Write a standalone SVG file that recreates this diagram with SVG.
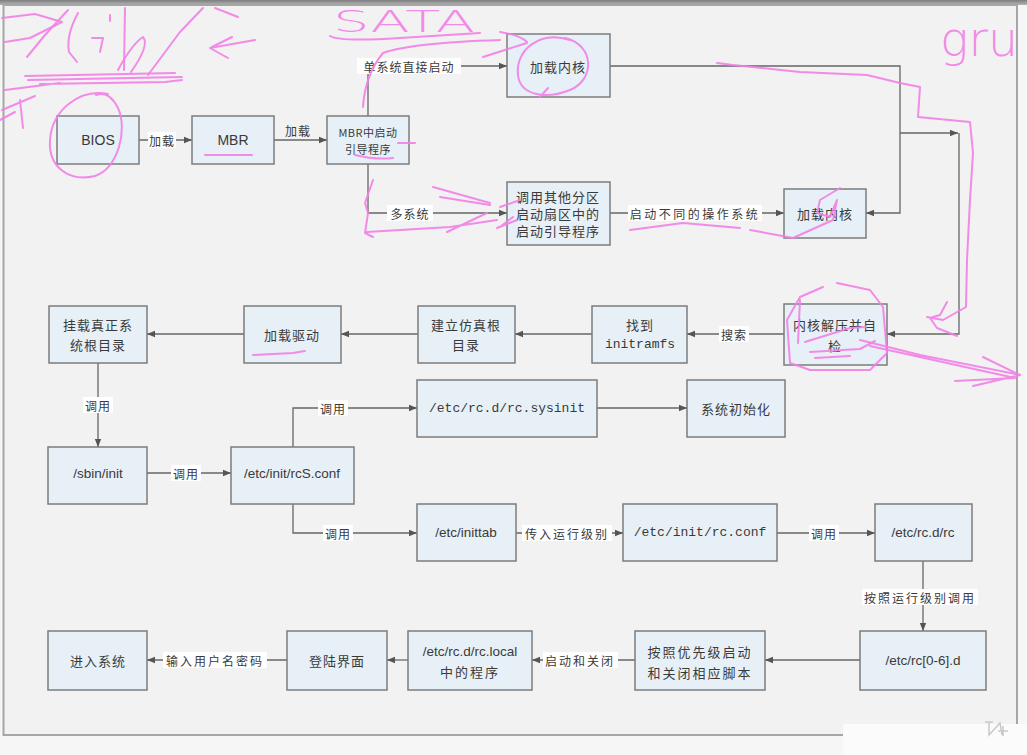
<svg xmlns="http://www.w3.org/2000/svg" width="1027" height="755" viewBox="0 0 1027 755">
  <defs>
    <marker id="arr" viewBox="0 0 10 10" refX="10" refY="5" markerWidth="9" markerHeight="8" markerUnits="userSpaceOnUse" orient="auto">
      <path d="M0,1 L10,5 L0,9 z" fill="#555"/>
    </marker>
    <linearGradient id="topbar" x1="0" y1="0" x2="0" y2="1">
      <stop offset="0" stop-color="#7d7d7d"/>
      <stop offset="1" stop-color="#b5b5b5"/>
    </linearGradient>
  </defs>
  <style>
    .box { fill: #e7f0f6; stroke: #7c7c7c; stroke-width: 1.5; }
    .t { font-family: "Noto Sans CJK SC", "Noto Sans", sans-serif; font-size: 13px; fill: #3a3a3a; text-anchor: middle; dominant-baseline: central; letter-spacing: 1px; }
    .en { font-family: "Liberation Sans", "Noto Sans CJK SC", sans-serif; font-size: 14px; letter-spacing: 0; }
    .mono { font-family: "Liberation Mono", "Noto Sans CJK SC", monospace; font-size: 13px; letter-spacing: 0; }
    .sm { font-size: 11px; letter-spacing: 0.5px; }
    .lbl { font-family: "Noto Sans CJK SC", sans-serif; font-size: 12px; fill: #3a3a3a; text-anchor: middle; dominant-baseline: central; letter-spacing: 1px; }
    .lblbg { fill: #ffffff; }
    .conn path { fill: none; stroke: #666; stroke-width: 1.3; }
    .ink { fill: none; stroke: #f27fe6; stroke-width: 2; stroke-linecap: round; stroke-linejoin: round; opacity: 0.9; }
    .inktext { fill: #f27fe6; font-family: "DejaVu Sans", sans-serif; font-weight: 200; opacity: 0.9; }
  </style>

  <!-- window background and frame -->
  <rect x="0" y="0" width="1027" height="755" fill="#f6f6f6"/>
  <rect x="0" y="0" width="1027" height="5" fill="url(#topbar)"/>
  <rect x="3.5" y="5" width="1013.5" height="730" fill="#f2f2f2" stroke="#a6a6a6" stroke-width="2"/>
  <rect x="843" y="724" width="184" height="31" fill="#fbfbfb"/>
  <path d="M985,722 H993 M989,722 V735 L1000,723 L1002,735 M998,731 H1008 M1003,726 V736" fill="none" stroke="#c9c9c9" stroke-width="1.5"/>

  <!-- connectors -->
  <g id="connectors" class="conn">
    <path d="M139,140 H192" marker-end="url(#arr)"/>
    <path d="M274,140 H327" marker-end="url(#arr)"/>
    <path d="M368,116 V66 H507" marker-end="url(#arr)"/>
    <path d="M368,164 V213 H507" marker-end="url(#arr)"/>
    <path d="M610,213 H784" marker-end="url(#arr)"/>
    <path d="M610,66 H900 V213 H866" marker-end="url(#arr)"/>
    <path d="M900,133 H958" marker-end="url(#arr)"/>
    <path d="M959,133 V334 H887" marker-end="url(#arr)"/>
    <path d="M784,334 H687" marker-end="url(#arr)"/>
    <path d="M592,334 H515" marker-end="url(#arr)"/>
    <path d="M418,334 H341" marker-end="url(#arr)"/>
    <path d="M244,334 H147" marker-end="url(#arr)"/>
    <path d="M98,363 V447" marker-end="url(#arr)"/>
    <path d="M147,473 H231" marker-end="url(#arr)"/>
    <path d="M293,447 V408 H417" marker-end="url(#arr)"/>
    <path d="M597,408 H687" marker-end="url(#arr)"/>
    <path d="M293,504 V533 H417" marker-end="url(#arr)"/>
    <path d="M516,533 H623" marker-end="url(#arr)"/>
    <path d="M777,533 H875" marker-end="url(#arr)"/>
    <path d="M923,561 V631" marker-end="url(#arr)"/>
    <path d="M860,660 H765" marker-end="url(#arr)"/>
    <path d="M635,660 H532" marker-end="url(#arr)"/>
    <path d="M408,660 H387" marker-end="url(#arr)"/>
    <path d="M287,660 H147" marker-end="url(#arr)"/>

    <!-- connector labels -->
    <rect class="lblbg" x="148" y="132" width="28" height="16"/>
    <text class="lbl" x="162" y="140">加载</text>
    <text class="lbl" x="298" y="130">加载</text>
    <rect class="lblbg" x="357" y="58" width="104" height="16"/>
    <text class="lbl" x="409" y="66">单系统直接启动</text>
    <rect class="lblbg" x="387" y="205" width="46" height="16"/>
    <text class="lbl" x="410" y="213">多系统</text>
    <rect class="lblbg" x="628" y="205" width="134" height="16"/>
    <text class="lbl" x="695" y="213" style="letter-spacing:2.5px">启动不同的操作系统</text>
    <rect class="lblbg" x="719" y="326" width="30" height="16"/>
    <text class="lbl" x="734" y="334">搜索</text>
    <rect class="lblbg" x="83" y="397" width="30" height="16"/>
    <text class="lbl" x="98" y="405">调用</text>
    <rect class="lblbg" x="171" y="465" width="30" height="16"/>
    <text class="lbl" x="186" y="473">调用</text>
    <rect class="lblbg" x="318" y="400" width="30" height="16"/>
    <text class="lbl" x="333" y="408">调用</text>
    <rect class="lblbg" x="323" y="525" width="30" height="16"/>
    <text class="lbl" x="338" y="533">调用</text>
    <rect class="lblbg" x="522" y="525" width="90" height="16"/>
    <text class="lbl" x="567" y="533" style="letter-spacing:2px">传入运行级别</text>
    <rect class="lblbg" x="809" y="525" width="30" height="16"/>
    <text class="lbl" x="824" y="533">调用</text>
    <rect class="lblbg" x="862" y="589" width="116" height="16"/>
    <text class="lbl" x="920" y="597" style="letter-spacing:2px">按照运行级别调用</text>
    <rect class="lblbg" x="543" y="652" width="75" height="16"/>
    <text class="lbl" x="580" y="660" style="letter-spacing:2px">启动和关闭</text>
    <rect class="lblbg" x="163" y="652" width="104" height="16"/>
    <text class="lbl" x="215" y="660" style="letter-spacing:2px">输入用户名密码</text>
  </g>

  <!-- nodes -->
  <g id="bios"><rect class="box" x="57" y="116" width="82" height="48"/><text class="t en" x="98" y="140">BIOS</text></g>
  <g id="mbr"><rect class="box" x="192" y="116" width="82" height="48"/><text class="t en" x="233" y="140">MBR</text></g>
  <g id="mbr-loader"><rect class="box" x="327" y="116" width="82" height="48"/>
    <text class="t sm" x="368" y="132">MBR中启动</text><text class="t sm" x="368" y="149">引导程序</text></g>
  <g id="kernel-a"><rect class="box" x="507" y="34" width="103" height="63"/><text class="t" x="558" y="66">加载内核</text></g>
  <g id="chainload"><rect class="box" x="507" y="182" width="103" height="63"/>
    <text class="t" x="558" y="196">调用其他分区</text><text class="t" x="558" y="213">启动扇区中的</text><text class="t" x="558" y="230">启动引导程序</text></g>
  <g id="kernel-b"><rect class="box" x="784" y="189" width="82" height="49"/><text class="t" x="825" y="213">加载内核</text></g>
  <g id="decompress"><rect class="box" x="784" y="304" width="103" height="61"/>
    <text class="t" x="835" y="324">内核解压并自</text><text class="t" x="835" y="345">检</text></g>
  <g id="initramfs"><rect class="box" x="592" y="306" width="95" height="57"/>
    <text class="t" x="640" y="324">找到</text><text class="t mono" x="640" y="344">initramfs</text></g>
  <g id="fake-root"><rect class="box" x="418" y="306" width="97" height="57"/>
    <text class="t" x="466" y="324">建立仿真根</text><text class="t" x="466" y="344">目录</text></g>
  <g id="drivers"><rect class="box" x="244" y="306" width="97" height="57"/><text class="t" x="292" y="334">加载驱动</text></g>
  <g id="mount-root"><rect class="box" x="49" y="306" width="98" height="57"/>
    <text class="t" x="98" y="324">挂载真正系</text><text class="t" x="98" y="344">统根目录</text></g>
  <g id="sbin-init"><rect class="box" x="48" y="447" width="99" height="57"/><text class="t en" x="98" y="473" style="font-size:13.5px">/sbin/init</text></g>
  <g id="rcs-conf"><rect class="box" x="231" y="447" width="123" height="57"/><text class="t en" x="292" y="473" style="font-size:13.5px">/etc/init/rcS.conf</text></g>
  <g id="rc-sysinit"><rect class="box" x="417" y="380" width="180" height="57"/><text class="t mono" x="507" y="408">/etc/rc.d/rc.sysinit</text></g>
  <g id="sys-init"><rect class="box" x="687" y="380" width="98" height="57"/><text class="t" x="736" y="408">系统初始化</text></g>
  <g id="inittab"><rect class="box" x="417" y="504" width="99" height="57"/><text class="t en" x="466" y="532" style="font-size:13.5px">/etc/inittab</text></g>
  <g id="rc-conf"><rect class="box" x="623" y="504" width="154" height="57"/><text class="t mono" x="700" y="532">/etc/init/rc.conf</text></g>
  <g id="rc-d-rc"><rect class="box" x="875" y="504" width="97" height="57"/><text class="t en" x="923" y="532" style="font-size:13.5px">/etc/rc.d/rc</text></g>
  <g id="rc-n-d"><rect class="box" x="860" y="631" width="126" height="59"/><text class="t en" x="923" y="660" style="font-size:13.5px">/etc/rc[0-6].d</text></g>
  <g id="scripts"><rect class="box" x="635" y="631" width="130" height="59"/>
    <text class="t" x="700" y="651" style="letter-spacing:2px">按照优先级启动</text><text class="t" x="700" y="672" style="letter-spacing:2px">和关闭相应脚本</text></g>
  <g id="rc-local"><rect class="box" x="408" y="631" width="124" height="59"/>
    <text class="t en" x="470" y="651" style="font-size:13.5px">/etc/rc.d/rc.local</text><text class="t" x="470" y="671" style="letter-spacing:2px">中的程序</text></g>
  <g id="login"><rect class="box" x="287" y="631" width="100" height="59"/><text class="t" x="337" y="660">登陆界面</text></g>
  <g id="enter"><rect class="box" x="48" y="631" width="99" height="59"/><text class="t" x="98" y="660">进入系统</text></g>

  <!-- freehand pen marks -->
  <g id="pen">
    <path class="ink" d="M2,18 L35,14 L62,22 L30,38 L5,42"/>
    <path class="ink" d="M68,10 L45,35 L27,57"/>
    <path class="ink" d="M78,13 Q66,35 69,52 L77,62"/>
    <path class="ink" d="M110,15 L110,21 M92,38 L103,38 L100,52"/>
    <path class="ink" d="M125,8 L124,70"/>
    <path class="ink" d="M118,70 Q132,44 143,37 Q150,45 131,72"/>
    <path class="ink" d="M148,75 L180,32 L203,8 M215,8 L238,17"/>
    <path class="ink" d="M255,40 L210,48 L228,58 M232,37 L212,47"/>
    <path class="ink" d="M25,76 L175,73 M28,80 L182,77 M40,84 L165,82 L182,80 M5,90 L60,83"/>
    <path class="ink" d="M2,110 L35,96 M20,100 L23,128 M0,120 L15,112"/>
    <path class="ink" d="M108,94 C80,88 52,110 50,140 C48,168 70,182 95,176 C118,168 128,130 118,108 C112,96 104,92 96,95"/>
    <path class="ink" d="M205,155 L252,155"/>
    <path class="ink" d="M355,155 Q375,160 393,158 M398,143 L415,143"/>
    <text class="inktext" x="333" y="32" font-size="30" textLength="142" lengthAdjust="spacingAndGlyphs">SATA</text>
    <path class="ink" d="M330,36 Q340,42 400,38 L480,33"/>
    <path class="ink" d="M363,107 Q365,75 383,53 Q410,43 500,40"/>
    <path class="ink" d="M500,32 Q520,35 527,42 M483,57 L527,43"/>
    <path class="ink" d="M570,40 C540,30 515,50 518,75 C520,95 545,100 570,90 C595,80 595,45 565,38 M548,88 L540,97"/>
    <path class="ink" d="M717,63 L733,65 L800,72 L867,75 L900,83 L920,87 L918,117 L970,122 L973,153 L970,200 L967,260 L966,307 L943,320 L927,317 M947,302 L940,315 L930,318 L937,328 L957,336"/>
    <text class="inktext" x="940" y="56" font-size="48" textLength="78" lengthAdjust="spacingAndGlyphs">gru</text>
    <path class="ink" d="M823,287 L800,297 L787,320 L790,363 L810,370 L870,370 L887,353 L883,307 L870,290 L837,283"/>
    <path class="ink" d="M800,300 L798,343 M805,342 L850,328 L866,327 M810,352 L860,349 L875,341 M815,358 L850,356"/>
    <path class="ink" d="M860,340 L920,355 L1020,375 M870,346 L1015,378 M983,357 L1020,375 L973,386 M955,381 L1015,378"/>
    <path class="ink" d="M373,180 L365,203 L368,213 L365,233 L373,237 M367,232 L450,227 L497,220 M433,187 L490,203 M440,197 L490,205 M447,232 L487,213 M497,228 L517,220 M500,207 L520,200 M500,227 L513,217"/>
    <path class="ink" d="M840,188 L820,200 L817,213 L830,217 L837,200 L833,220 L793,238 L750,230 M630,230 L683,223 L740,228"/>
    <path class="ink" d="M253,355 L293,353 L305,351"/>
  </g>
</svg>
